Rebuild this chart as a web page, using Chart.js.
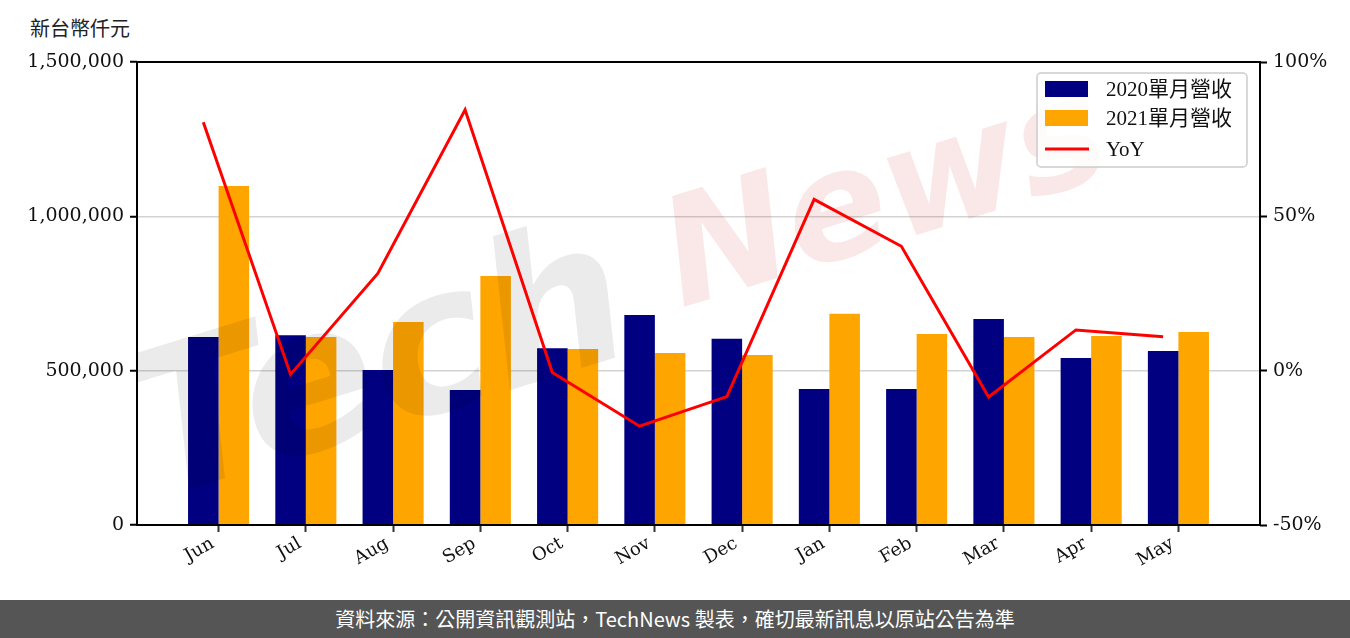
<!DOCTYPE html>
<html lang="zh-Hant">
<head>
  <meta charset="UTF-8" />
  <title>單月營收</title>
  <script src="https://cdn.jsdelivr.net/npm/chart.js"></script>
  <style>
    body {
      margin: 0;
      background: white;
      width: 1350px;
      height: 638px;
      overflow: hidden;
      position: relative;
    }
    .unit {
      position: absolute;
      left: 30px;
      top: 13px;
      font-family: 'Noto Sans CJK TC', serif;
      font-size: 20px;
      color: #222;
    }
    .wrap {
      position: absolute;
      left: 0;
      top: 0;
      width: 1350px;
      height: 600px;
    }
    .footer {
      position: absolute;
      left: 0;
      top: 600px;
      width: 1350px;
      height: 38px;
      background: #555555;
      color: white;
      font-family: 'Noto Sans CJK TC', 'Noto Sans', sans-serif;
      font-size: 20px;
      line-height: 38px;
      text-align: center;
    }
  </style>
</head>
<body>
  <div class="unit">新台幣仟元</div>
  <div class="wrap"><canvas id="revChart" width="1350" height="600"></canvas></div>
  <div class="footer" lang="zh-TW">資料來源：公開資訊觀測站，TechNews 製表，確切最新訊息以原站公告為準</div>

<script>
  const months = ['Jun', 'Jul', 'Aug', 'Sep', 'Oct', 'Nov', 'Dec', 'Jan', 'Feb', 'Mar', 'Apr', 'May'];
  const rev2020 = [609000, 615000, 502000, 437000, 573000, 680000, 603000, 441000, 441000, 667000, 541000, 564000];
  const rev2021 = [1098000, 609000, 658000, 807000, 570000, 557000, 551000, 684000, 619000, 609000, 612000, 625000];
  const yoy = [80.5, -1.2, 31.5, 84.5, -0.6, -18, -8.4, 55.5, 40.3, -8.5, 13.2, 11];

  const serif = "'DejaVu Serif', 'Noto Sans CJK TC', serif";
  const legendFont = "21px 'Liberation Serif', 'Noto Sans CJK TC', serif";
  const box = { left: 137, right: 1260, top: 62, bottom: 525 };
  const barGroup = 0.7;          // share of a month slot taken by the two bars
  const yoyShift = -barGroup / 4; // YoY points sit over the 2020 bar

  const toXY = (arr, dx) => arr.map((v, i) => ({ x: i + (dx || 0), y: v }));

  const framePlugin = {
    id: 'frame',
    beforeDatasetDraw(chart, args) {
      if (args.index !== 0) return;
      // faint TechNews watermark, between the bars and the YoY line
      const c = chart.ctx;
      const a = chart.chartArea;
      c.save();
      c.beginPath();
      c.rect(a.left, a.top, a.right - a.left, a.bottom - a.top);
      c.clip();
      c.globalCompositeOperation = 'multiply';
      c.translate(640, 330);
      c.rotate(-0.3);
      c.textBaseline = 'middle';
      c.font = "italic bold 200px 'DejaVu Sans'";
      c.fillStyle = '#ebebeb';
      c.fillText('Tech', -513, -33);
      c.font = "italic bold 150px 'DejaVu Sans'";
      c.fillStyle = '#fae8e8';
      c.fillText('News', 46, -48);
      c.restore();
    },
    afterDatasetsDraw(chart) {
      const c = chart.ctx;
      const a = chart.chartArea;
      c.save();
      c.strokeStyle = '#000';
      c.lineWidth = 2;
      c.strokeRect(a.left, a.top, a.right - a.left, a.bottom - a.top);
      c.restore();
    },
    afterDraw(chart) {
      const c = chart.ctx;
      const x = 1037, y = 73, w = 210, h = 94;
      c.save();
      c.fillStyle = 'rgba(255,255,255,0.8)';
      c.strokeStyle = '#cccccc';
      c.lineWidth = 1.5;
      c.beginPath();
      c.roundRect(x, y, w, h, 4);
      c.fill();
      c.stroke();
      const rows = [
        { ds: chart.data.datasets[1], cy: 89 },
        { ds: chart.data.datasets[2], cy: 118 },
        { ds: chart.data.datasets[0], cy: 149 }
      ];
      c.font = legendFont;
      c.textBaseline = 'middle';
      rows.forEach(r => {
        if (r.ds.type === 'line') {
          c.strokeStyle = r.ds.borderColor;
          c.lineWidth = 3;
          c.beginPath();
          c.moveTo(1045, r.cy);
          c.lineTo(1089, r.cy);
          c.stroke();
        } else {
          c.fillStyle = r.ds.backgroundColor;
          c.fillRect(1045, r.cy - 8, 43, 16);
        }
        c.fillStyle = '#111';
        c.fillText(r.ds.label, 1106, r.cy + 1);
      });
      c.restore();
    }
  };

  const ctx = document.getElementById('revChart').getContext('2d');
  const chart = new Chart(ctx, {
    type: 'bar',
    data: {
      datasets: [
        {
          type: 'line', label: 'YoY', data: toXY(yoy, yoyShift), yAxisID: 'y1',
          borderColor: '#ff0000', borderWidth: 3, pointRadius: 0, tension: 0, order: 0
        },
        {
          label: '2020單月營收', data: toXY(rev2020), yAxisID: 'y',
          backgroundColor: '#000080', order: 1,
          categoryPercentage: barGroup, barPercentage: 1.0
        },
        {
          label: '2021單月營收', data: toXY(rev2021), yAxisID: 'y',
          backgroundColor: '#ffa500', order: 1,
          categoryPercentage: barGroup, barPercentage: 1.0
        }
      ]
    },
    options: {
      responsive: false,
      animation: false,
      layout: { padding: { left: 0, right: 0, top: box.top, bottom: 0 } },
      plugins: {
        legend: { display: false },
        tooltip: { enabled: false }
      },
      scales: {
        x: {
          type: 'linear',
          min: -0.935,
          max: 11.935,
          offset: false,
          afterBuildTicks: s => { s.ticks = months.map((m, i) => ({ value: i })); },
          afterFit: s => { s.height = 600 - box.bottom; },
          grid: { display: true, drawOnChartArea: false, tickLength: 7, tickColor: '#333', tickWidth: 2, offset: false },
          border: { display: false },
          ticks: {
            callback: v => months[v],
            maxRotation: 30, minRotation: 30,
            autoSkip: false,
            padding: 1,
            labelOffset: -6,
            color: '#111',
            font: { family: serif, size: 18 }
          }
        },
        y: {
          position: 'left',
          min: 0, max: 1500000,
          afterFit: s => { s.width = box.left; },
          grid: { color: '#d3d3d3', lineWidth: 1.5, tickLength: 7, tickColor: '#000', tickWidth: 2 },
          border: { display: false },
          ticks: {
            stepSize: 500000,
            padding: 6,
            color: '#111',
            font: { family: serif, size: 19 },
            callback: v => v.toLocaleString('en-US')
          }
        },
        y1: {
          position: 'right',
          min: -50, max: 100,
          afterFit: s => { s.width = 1350 - box.right; },
          grid: { drawOnChartArea: false, tickLength: 7, tickColor: '#000', tickWidth: 2 },
          border: { display: false },
          ticks: {
            stepSize: 50,
            padding: 6,
            color: '#111',
            font: { family: serif, size: 19 },
            callback: v => v + '%'
          }
        }
      }
    },
    plugins: [framePlugin]
  });
</script>
</body>
</html>
